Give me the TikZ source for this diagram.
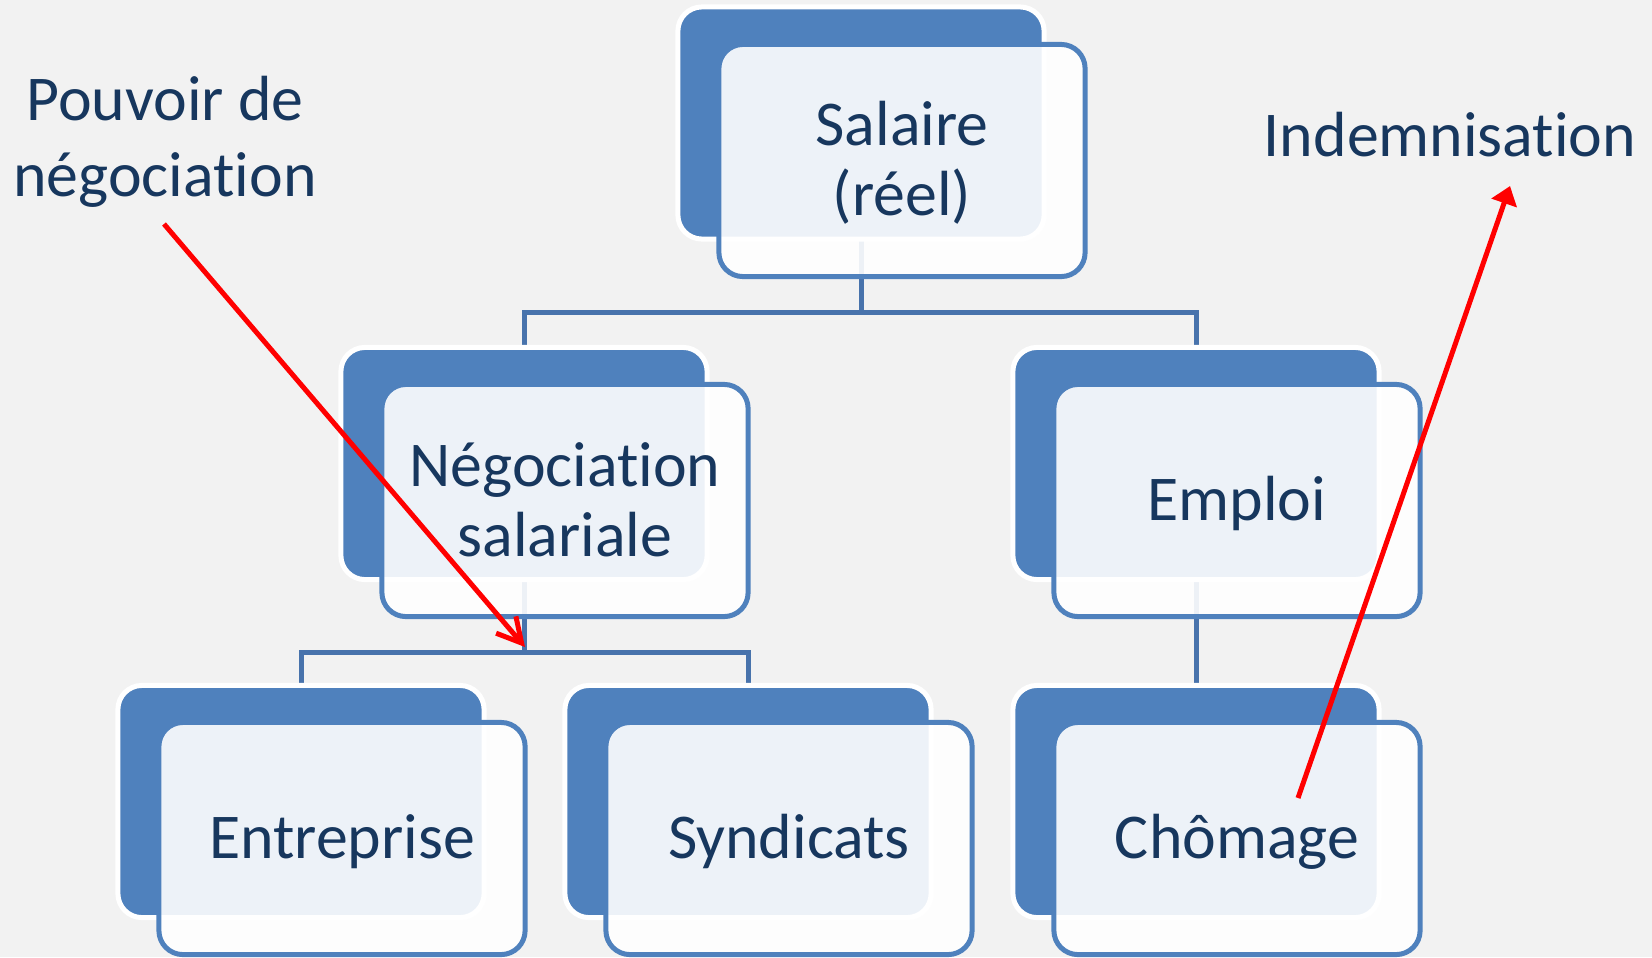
\documentclass[tikz,border=0pt]{standalone}
\usepackage{fontspec}
\setmainfont{Carlito}[Ligatures=NoCommon]
\usetikzlibrary{arrows.meta}

\definecolor{pagebg}{HTML}{F2F2F2}
\definecolor{boxblue}{HTML}{4F81BD}
\definecolor{linkblue}{HTML}{4873AC}
\definecolor{navytext}{HTML}{17375E}
\definecolor{alertred}{HTML}{FF0000}

\pgfdeclarelayer{paper}
\pgfdeclarelayer{links}
\pgfsetlayers{paper,links,main}

\begin{document}
\begin{tikzpicture}[
    x=0.01cm, y=-0.01cm,
    backbox/.style={draw=white, line width=0.5mm, fill=boxblue,
      rounded corners=2.4mm, minimum width=3.66cm, minimum height=2.32cm,
      inner sep=0pt, outer sep=0pt},
    frontbox/.style={draw=boxblue, line width=0.5mm, fill=white, fill opacity=0.9,
      draw opacity=1, rounded corners=2.4mm, minimum width=3.66cm,
      minimum height=2.32cm, inner sep=0pt, outer sep=0pt},
    lbl/.style={text=navytext, font=\fontsize{18.15}{19.92}\selectfont,
      inner sep=0pt, outer sep=0pt, anchor=base},
    freelbl/.style={text=navytext, font=\fontsize{18.15}{21.63}\selectfont,
      inner sep=0pt, outer sep=0pt, anchor=base},
    conn/.style={draw=linkblue, line width=0.5mm},
    redline/.style={draw=alertred, line width=0.5mm}
  ]

  % page
  \begin{pgfonlayer}{paper}
    \fill[pagebg] (0,0) rectangle (1652,957);
  \end{pgfonlayer}
  \useasboundingbox (0,0) rectangle (1652,957);

  % back (dark) tiles
  \node[backbox] (b-sal) at (861,123) {};
  \node[backbox] (b-neg) at (524,463.5) {};
  \node[backbox] (b-emp) at (1196,463.5) {};
  \node[backbox] (b-ent) at (301,801.5) {};
  \node[backbox] (b-syn) at (748,801.5) {};
  \node[backbox] (b-cho) at (1196,801.5) {};

  % front tiles
  \node[frontbox] (f-sal) at (902,160.5) {};
  \node[frontbox] (f-neg) at (565,500.5) {};
  \node[frontbox] (f-emp) at (1237,500.5) {};
  \node[frontbox] (f-ent) at (342,838.5) {};
  \node[frontbox] (f-syn) at (789,838.5) {};
  \node[frontbox] (f-cho) at (1237,838.5) {};

  % junction points of the tree
  \coordinate (j1) at (861,312);
  \coordinate (j2) at (524,652);

  % tree connectors, beneath the tiles
  \begin{pgfonlayer}{links}
    \draw[conn] (b-sal.south) -- (j1);
    \draw[conn] (b-neg.north) -- (b-neg.north |- j1) -- (b-emp.north |- j1) -- (b-emp.north);
    \draw[conn] (b-neg.south) -- (j2);
    \draw[conn] (b-ent.north) -- (b-ent.north |- j2) -- (b-syn.north |- j2) -- (b-syn.north);
    \draw[conn] (b-emp.south) -- (b-cho.north);
  \end{pgfonlayer}

  % tile texts
  \node[lbl] (t-sal) at (902,145) {\begin{tabular}[t]{@{}c@{}}Salaire\\(réel)\end{tabular}};
  \node[lbl] (t-neg) at (565,486) {\begin{tabular}[t]{@{}c@{}}Négociation\\salariale\end{tabular}};
  \node[lbl] (t-emp) at (1237,520.5) {Emploi};
  \node[lbl] (t-ent) at (342,858) {Entreprise};
  \node[lbl] (t-syn) at (789,858) {Syndicats};
  \node[lbl] (t-cho) at (1237,858) {Chômage};

  % free labels
  \node[freelbl] (pouvoir) at (165,120) {\begin{tabular}[t]{@{}c@{}}Pouvoir de\\négociation\end{tabular}};
  \node[freelbl] (indem) at (1450,156) {Indemnisation};

  % red arrows
  \coordinate (p-start) at (164,224);
  \coordinate (p-end) at (525,647);
  \coordinate (i-start) at (1298,798);
  \coordinate (i-end) at (1510,186);
  \draw[redline, -{Straight Barb[length=2.4mm,width=2.6mm]}] (p-start) -- (p-end);
  \draw[redline, -{Triangle[length=1.8mm,width=2.6mm]}] (i-start) -- (i-end);
\end{tikzpicture}
\end{document}
